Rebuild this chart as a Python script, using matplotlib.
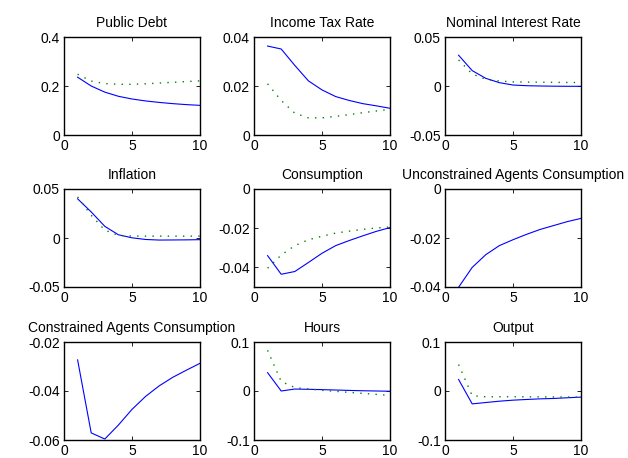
import matplotlib
matplotlib.use("Agg")
import matplotlib.pyplot as plt

plt.rcParams['font.family'] = ['Liberation Sans', 'DejaVu Sans']
plt.rcParams['axes.unicode_minus'] = False

periods = [1, 2, 3, 4, 5, 6, 7, 8, 9, 10]

titles = ["Public Debt", "Income Tax Rate", "Nominal Interest Rate",
          "Inflation", "Consumption", "Unconstrained Agents Consumption",
          "Constrained Agents Consumption", "Hours", "Output"]

public_debt_blue = [0.236, 0.200, 0.175, 0.158, 0.147, 0.139, 0.133, 0.128, 0.124, 0.121]
public_debt_green = [0.248, 0.220, 0.210, 0.207, 0.207, 0.209, 0.212, 0.215, 0.218, 0.221]

tax_blue = [0.0363, 0.0351, 0.0284, 0.0221, 0.0184, 0.0157, 0.0141, 0.0128, 0.0119, 0.0109]
tax_green = [0.0209, 0.0141, 0.0089, 0.0070, 0.0070, 0.0076, 0.0083, 0.0091, 0.0098, 0.0105]

interest_blue = [0.0314, 0.0157, 0.0078, 0.0034, 0.0010, 0.0003, 0.0, -0.0002, -0.0003, -0.0003]
interest_green = [0.0266, 0.0123, 0.0068, 0.0051, 0.0042, 0.0040, 0.0039, 0.0037, 0.0036, 0.0035]

inflation_blue = [0.0400, 0.0266, 0.0119, 0.0033, 0.0002, -0.0015, -0.0021, -0.0020, -0.0019, -0.0017]
inflation_green = [0.0420, 0.0232, 0.0081, 0.0026, 0.0020, 0.0019, 0.0019, 0.0019, 0.0019, 0.0019]

consumption_blue = [-0.0340, -0.0435, -0.0421, -0.0375, -0.0328, -0.0289, -0.0263, -0.0239, -0.0216, -0.0197]
consumption_green = [-0.0404, -0.0337, -0.0289, -0.0259, -0.0241, -0.0225, -0.0215, -0.0206, -0.0199, -0.0194]

unconstrained_blue = [-0.0401, -0.0320, -0.0268, -0.0231, -0.0207, -0.0185, -0.0165, -0.0149, -0.0133, -0.0120]

constrained_blue = [-0.0273, -0.0571, -0.0596, -0.0539, -0.0475, -0.0422, -0.0379, -0.0344, -0.0315, -0.0287]

hours_blue = [0.0374, 0.0, 0.0040, 0.0035, 0.0028, 0.0020, 0.0012, 0.0005, 0.0, -0.0005]
hours_green = [0.0830, 0.0194, 0.0070, 0.0040, 0.0014, -0.0007, -0.0028, -0.0048, -0.0069, -0.0090]

output_blue = [0.0235, -0.0263, -0.0235, -0.0208, -0.0187, -0.0173, -0.0160, -0.0152, -0.0138, -0.0125]
output_green = [0.0540, -0.0097, -0.0118, -0.0118, -0.0118, -0.0119, -0.0120, -0.0121, -0.0123, -0.0125]

blue_series = [public_debt_blue, tax_blue, interest_blue, inflation_blue, consumption_blue,
               unconstrained_blue, constrained_blue, hours_blue, output_blue]
green_series = [public_debt_green, tax_green, interest_green, inflation_green, consumption_green,
                None, None, hours_green, output_green]

ylims = [(0, 0.4), (0, 0.04), (-0.05, 0.05), (-0.05, 0.05), (-0.05, 0),
         (-0.04, 0), (-0.06, -0.02), (-0.1, 0.1), (-0.1, 0.1)]
yticks = [[0, 0.2, 0.4], [0, 0.02, 0.04], [-0.05, 0, 0.05], [-0.05, 0, 0.05],
          [-0.04, -0.02, 0], [-0.04, -0.02, 0], [-0.06, -0.04, -0.02], [-0.1, 0, 0.1], [-0.1, 0, 0.1]]
yticklabels = [["0", "0.2", "0.4"], ["0", "0.02", "0.04"], ["-0.05", "0", "0.05"], ["-0.05", "0", "0.05"],
               ["-0.04", "-0.02", "0"], ["-0.04", "-0.02", "0"], ["-0.06", "-0.04", "-0.02"],
               ["-0.1", "0", "0.1"], ["-0.1", "0", "0.1"]]
xticks = [0, 5, 10]
xticklabels = ["0", "5", "10"]

W, H = 628, 458
fig = plt.figure(figsize=(W / 100, H / 100), dpi=100)

col_left = [64, 254, 445]
col_w = 136
row_top = [37, 189, 342]
row_h = 98

fs = 10.0
for i in range(9):
    r, c = divmod(i, 3)
    ax = fig.add_axes([col_left[c] / W, 1 - (row_top[r] + row_h) / H, col_w / W, row_h / H])
    ax.plot(periods, blue_series[i], color=(0, 0, 1), lw=0.8, solid_joinstyle='miter')
    if green_series[i] is not None:
        ax.plot(periods, green_series[i], color=(0, 0.5, 0), lw=1.0, linestyle=(0, (1, 4.5)))
    ax.set_xlim(0, 10)
    ax.set_ylim(*ylims[i])
    ax.set_xticks(xticks)
    ax.set_xticklabels(xticklabels, fontsize=fs)
    ax.set_yticks(yticks[i])
    ax.set_yticklabels(yticklabels[i], fontsize=fs)
    ax.tick_params(direction='in', length=3, width=0.6, top=True, right=True, pad=3)
    for s in ax.spines.values():
        s.set_linewidth(1.0)
    ax.set_title(titles[i], fontsize=fs, pad=7)

fig.savefig("out.png", dpi=100)
